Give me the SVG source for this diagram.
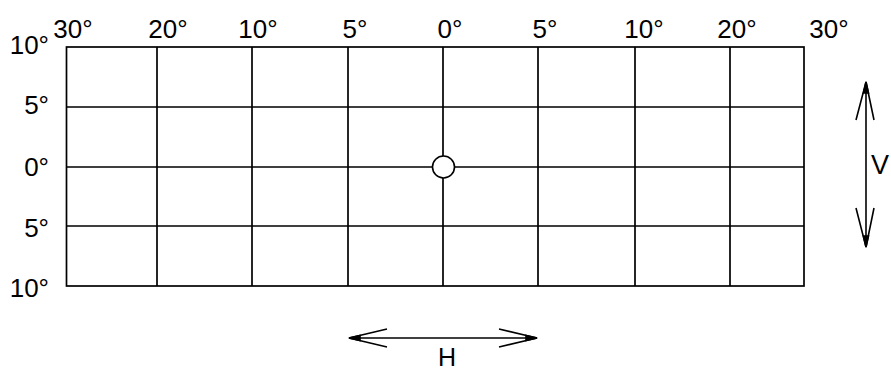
<svg xmlns="http://www.w3.org/2000/svg" width="891" height="370" viewBox="0 0 891 370">
<style>
.g{stroke:#000;stroke-width:1.7;fill:none}
.t{font-family:"Liberation Sans",Arial,sans-serif;font-size:26px;fill:#000}
.m{text-anchor:middle}
.e{text-anchor:end}
.a{stroke:#000;stroke-width:1.6;fill:none}
</style>
<rect width="891" height="370" fill="#fff"/>
<g id="grid" class="g">
<rect x="66.5" y="47" width="737.5" height="239"/>
<path d="M157 47V286M252 47V286M348 47V286M443 47V286M538 47V286M635 47V286M730 47V286"/>
<path d="M66.5 107H804M66.5 167H804M66.5 226H804"/>
</g>
<g id="center-point">
<circle cx="443.5" cy="167" r="11" fill="#fff" stroke="#000" stroke-width="1.6"/>
</g>
<g id="top-labels" class="t m">
<text x="73" y="38">30°</text>
<text x="168" y="38">20°</text>
<text x="258" y="38">10°</text>
<text x="355" y="38">5°</text>
<text x="450" y="38">0°</text>
<text x="545" y="38">5°</text>
<text x="644" y="38">10°</text>
<text x="737" y="38">20°</text>
<text x="829" y="38">30°</text>
</g>
<g id="left-labels" class="t e">
<text x="49" y="54">10°</text>
<text x="49" y="114">5°</text>
<text x="49" y="176">0°</text>
<text x="49" y="237">5°</text>
<text x="49" y="297">10°</text>
</g>
<g id="connectors">
<g id="h-arrow" class="a">
<path d="M349 338H537"/>
<path d="M387 329L349 338L387 347M499 329L537 338L499 347"/>
<path d="M349 338L360 335.5L360 340.5ZM537 338L526 335.5L526 340.5Z" fill="#000"/>
</g>
<g id="v-arrow" class="a">
<path d="M866 82V247"/>
<path d="M856 120L866 82L874 120M856 208L866 247L874 208"/>
<path d="M866 82L863.5 93L868.5 93ZM866 247L863.5 236L868.5 236Z" fill="#000"/>
</g>
</g>
<g id="axis-labels" class="t">
<text x="447" y="366" text-anchor="middle" font-size="25">H</text>
<text x="880" y="174" text-anchor="middle" font-size="27">V</text>
</g>
</svg>
